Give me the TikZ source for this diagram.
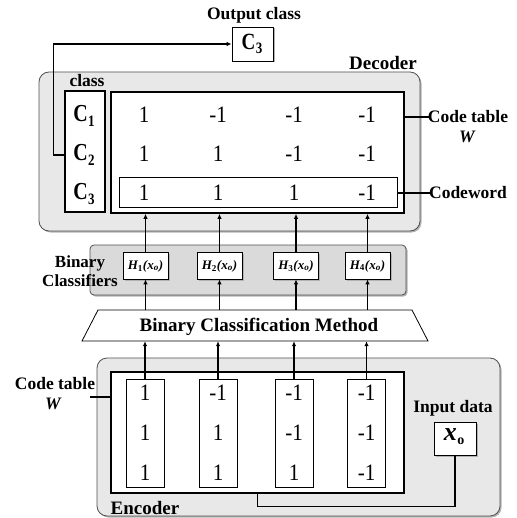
\documentclass[tikz,border=0pt]{standalone}
\usepackage{fontspec}
\setmainfont{Liberation Serif}
\usetikzlibrary{arrows.meta,shadows}
\definecolor{panel}{HTML}{E8E8E8}
\definecolor{panelb}{HTML}{DADADA}
\definecolor{edge}{HTML}{505050}
\newcommand{\clsC}[1]{\scalebox{1}[1.22]{C\kern0.5pt\raisebox{-3.5pt}{\fontsize{13}{13}\selectfont #1}}}
\newcommand{\tallnum}[1]{\scalebox{1}[1.12]{#1}}
\begin{document}
\begin{tikzpicture}[x=1pt,y=-1pt,
  shd/.style={drop shadow={shadow xshift=1.5pt,shadow yshift=-1.5pt,fill=gray!60,opacity=1}},
  panelbox/.style={draw=edge,line width=0.8pt,fill=panel,rounded corners=10pt,inner sep=0pt,shd},
  thickbox/.style={draw,line width=1.6pt,fill=white,inner sep=0pt},
  thinbox/.style={draw,line width=0.8pt,fill=white,inner sep=0pt},
  lbl/.style={font=\bfseries\fontsize{17.5}{19}\selectfont,inner sep=0pt},
  num/.style={font=\fontsize{21}{23}\selectfont,inner sep=0pt},
  cls/.style={font=\bfseries\fontsize{20}{22}\selectfont,inner sep=0pt},
  hlab/.style={font=\bfseries\itshape\fontsize{13}{15}\selectfont,inner sep=0pt},
  arr/.style={line width=1.6pt,-{Latex[length=5pt,width=4.5pt]}},
  ln/.style={line width=1.2pt}]
\useasboundingbox (0,0) rectangle (516,518);
% ---------------- Output
\node[lbl] (outlbl) at (254,15) {Output class};
\node[thinbox,shd,minimum width=41pt,minimum height=34pt] (outc) at (252.5,44) {};
\node[cls,font=\bfseries\fontsize{19}{21}\selectfont] (outct) at (252,44) {\clsC{3}};
% ---------------- Decoder
\node[panelbox,minimum width=381pt,minimum height=159pt] (dec) at (229.5,151.5) {};
\node[lbl,font=\bfseries\fontsize{19}{21}\selectfont] (declbl) at (383,63) {Decoder};
\node[lbl] (clslbl) at (87,81) {class};
\node[thickbox,minimum width=40pt,minimum height=121pt] (cls) at (85,151.5) {};
\node[cls] (c1) at (84,116) {\clsC{1}};
\node[cls] (c2) at (84,155) {\clsC{2}};
\node[cls] (c3) at (84,194) {\clsC{3}};
\node[thickbox,minimum width=293pt,minimum height=121pt] (dct) at (257.5,152.5) {};
\node[thinbox,minimum width=278pt,minimum height=30pt] (cw) at (258,192) {};
\foreach \r/\y/\a/\b/\c/\d in {1/115/1/-1/-1/-1, 2/154/1/1/-1/-1, 3/193/1/1/1/-1}{
  \node[num] (d\r a) at (144,\y) {\tallnum{\a}};
  \node[num] (d\r b) at (218,\y) {\tallnum{\b}};
  \node[num] (d\r c) at (294,\y) {\tallnum{\c}};
  \node[num] (d\r d) at (367,\y) {\tallnum{\d}};
}
\coordinate (ctl) at (430,117);
\draw[ln] (dct.east |- ctl) -- (ctl);
\node[lbl] (ctt) at (468,117) {Code table};
\node[lbl,font=\bfseries\itshape\fontsize{17.5}{19}\selectfont] (ctw) at (467,137) {W};
\coordinate (cwl) at (430,193);
\draw[ln] (cw.east |- cwl) -- (cwl);
\node[lbl] (cwt) at (468,193) {Codeword};
\draw[ln,-{Latex[length=5pt,width=4.5pt]}] (cls.west |- c2) -- ++(-11,0) |- (outc.west);
% ---------------- Binary classifiers
\node[panelbox,fill=panelb,rounded corners=4pt,minimum width=316pt,minimum height=50pt] (bc) at (248,270) {};
\node[lbl,align=center,font=\bfseries\fontsize{17}{19}\selectfont] (bclbl) at (80,271) {Binary\\Classifiers};
\foreach \i/\x in {1/145.5,2/219.5,3/296,4/367.5}{
  \node[thinbox,shd,minimum width=45pt,minimum height=27pt] (h\i) at (\x,265.5) {};
  \node[hlab] (h\i t) at (\x,266) {H\textsubscript{\upshape\i}(x\textsubscript{o})};
  \draw[arr] (h\i.north) -- (h\i |- dct.south);
}
% ---------------- Binary classification method
\node[inner sep=0pt,minimum width=330pt,minimum height=31pt] (bcm) at (255,325.5) {};
\draw[line width=0.8pt,fill=white] (98,310) -- (412,310) -- (428,341) -- (82,341) -- cycle;
\node[lbl,font=\bfseries\fontsize{19}{21}\selectfont] (bcmt) at (259,327) {Binary Classification Method};
\foreach \i in {1,2,3,4}{
  \draw[arr] (h\i |- bcm.north) -- (h\i.south);
}
% ---------------- Encoder
\node[panelbox,minimum width=403pt,minimum height=158pt] (enc) at (298.5,437) {};
\node[lbl,font=\bfseries\fontsize{19}{21}\selectfont] (enclbl) at (145,508) {Encoder};
\node[thickbox,minimum width=293pt,minimum height=121pt] (ect) at (257.5,432.5) {};
\foreach \i/\x/\a/\b/\c in {1/145/1/1/1, 2/218/-1/1/1, 3/294/-1/-1/1, 4/366.5/-1/-1/-1}{
  \node[thinbox,minimum width=38pt,minimum height=108pt] (col\i) at (\x,433) {};
  \node[num] (e\i a) at (\x,393) {\tallnum{\a}};
  \node[num] (e\i b) at (\x,433) {\tallnum{\b}};
  \node[num] (e\i c) at (\x,473) {\tallnum{\c}};
  \draw[arr] (col\i.north) -- (col\i |- bcm.south);
}
\coordinate (lctl) at (90,397);
\draw[ln] (lctl) -- (ect.west |- lctl);
\node[lbl] (lctt) at (55,384) {Code table};
\node[lbl,font=\bfseries\itshape\fontsize{17.5}{19}\selectfont] (lctw) at (53,404) {W};
\node[lbl] (inlbl) at (453,408) {Input data};
\node[thinbox,shd,minimum width=42pt,minimum height=33pt] (xo) at (455,438.5) {};
\node[inner sep=0pt,font=\bfseries\itshape\fontsize{26}{28}\selectfont] (xot) at (454,437) {x\kern0.5pt\raisebox{-4pt}{\upshape\fontsize{14}{14}\selectfont o}};
\draw[ln] (xo.south) |- ([yshift=-13pt]ect.south) -- (ect.south);
\end{tikzpicture}
\end{document}
